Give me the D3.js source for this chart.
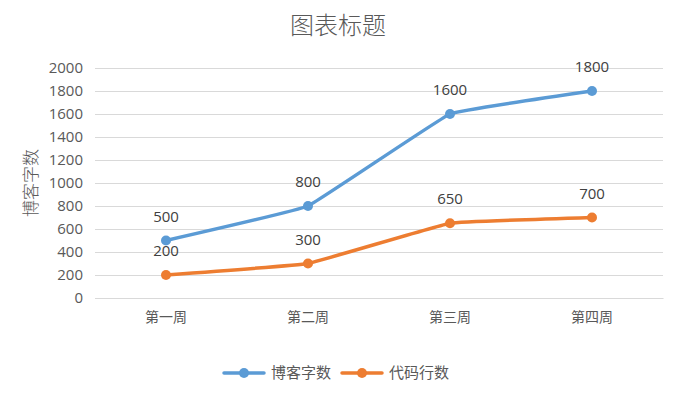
<!DOCTYPE html>
<html>
<head>
<meta charset="UTF-8">
<title>图表标题</title>
<script src="https://cdn.jsdelivr.net/npm/d3@7"></script>
<style>
  body { margin: 0; background: #fff; }
  text { font-family: "Open Sans", "Noto Sans CJK SC", sans-serif; }
  .cjk { font-family: "Noto Sans CJK SC", sans-serif; }
</style>
</head>
<body>
<svg id="chart" width="677" height="397"></svg>
<script>
// 数据
var weeks = ["第一周", "第二周", "第三周", "第四周"];
var blogWords = [500, 800, 1600, 1800];
var codeLines = [200, 300, 650, 700];
var yTicks = [0, 200, 400, 600, 800, 1000, 1200, 1400, 1600, 1800, 2000];
var seriesNames = ["博客字数", "代码行数"];
var seriesColors = ["#5b9bd5", "#ed7d31"];

var svg = d3.select("#chart");
var margin = {left: 95, right: 14, top: 68, bottom: 99};
var W = 677, H = 397;

var x = d3.scaleBand().domain(weeks).range([margin.left, W - margin.right]);
var y = d3.scaleLinear().domain([0, 2000]).range([H - margin.bottom, margin.top]);

// 标题
svg.append("text")
  .attr("class", "cjk")
  .attr("x", 338).attr("y", 34)
  .attr("text-anchor", "middle")
  .attr("font-size", 24)
  .attr("font-weight", 300)
  .attr("fill", "#595959")
  .text("图表标题");

// 网格线
var yAxis = d3.axisLeft(y).tickValues(yTicks).tickFormat(d3.format("d"))
  .tickSize(-(W - margin.left - margin.right)).tickPadding(12);
var gy = svg.append("g").attr("transform", "translate(" + margin.left + ",0)").call(yAxis);
gy.select(".domain").remove();
gy.selectAll(".tick line").attr("stroke", "#d9d9d9").attr("stroke-width", 1);
gy.selectAll(".tick text").attr("fill", "#595959").attr("font-size", 15);

var xAxis = d3.axisBottom(x).tickSize(0).tickPadding(14);
var gx = svg.append("g").attr("transform", "translate(0," + y(0) + ")").call(xAxis);
gx.select(".domain").attr("stroke", "#d9d9d9");
gx.selectAll(".tick text").attr("class", "cjk").attr("fill", "#595959").attr("font-size", 14);

// Y轴标题
svg.append("text")
  .attr("class", "cjk")
  .attr("transform", "translate(37,183) rotate(-90)")
  .attr("text-anchor", "middle")
  .attr("font-size", 17)
  .attr("font-weight", 300)
  .attr("fill", "#595959")
  .text("博客字数");

var line = d3.line()
  .x(function(d, i) { return x(weeks[i]) + x.bandwidth() / 2; })
  .y(function(d) { return y(d); })
  .curve(d3.curveCardinal.tension(0.8));

[blogWords, codeLines].forEach(function(vals, k) {
  var g = svg.append("g");
  g.append("path")
    .datum(vals)
    .attr("d", line)
    .attr("fill", "none")
    .attr("stroke", seriesColors[k])
    .attr("stroke-width", 3.5)
    .attr("stroke-linecap", "round");
  g.selectAll("circle").data(vals).enter().append("circle")
    .attr("cx", function(d, i) { return x(weeks[i]) + x.bandwidth() / 2; })
    .attr("cy", function(d) { return y(d); })
    .attr("r", 5)
    .attr("fill", seriesColors[k]);
  g.selectAll("text.lbl").data(vals).enter().append("text")
    .attr("class", "lbl")
    .attr("x", function(d, i) { return x(weeks[i]) + x.bandwidth() / 2; })
    .attr("y", function(d) { return y(d) - 19; })
    .attr("text-anchor", "middle")
    .attr("font-size", 15)
    .attr("fill", "#404040")
    .text(function(d) { return d; });
});

// 图例
var legendX = [224, 342];
seriesNames.forEach(function(name, k) {
  var lg = svg.append("g").attr("transform", "translate(" + legendX[k] + ",373)");
  lg.append("line").attr("x1", 0).attr("x2", 40).attr("y1", 0).attr("y2", 0)
    .attr("stroke", seriesColors[k]).attr("stroke-width", 3.5).attr("stroke-linecap", "round");
  lg.append("circle").attr("cx", 20).attr("cy", 0).attr("r", 5).attr("fill", seriesColors[k]);
  lg.append("text").attr("class", "cjk").attr("x", 47).attr("y", 5)
    .attr("font-size", 15).attr("fill", "#595959").text(name);
});
</script>
</body>
</html>
